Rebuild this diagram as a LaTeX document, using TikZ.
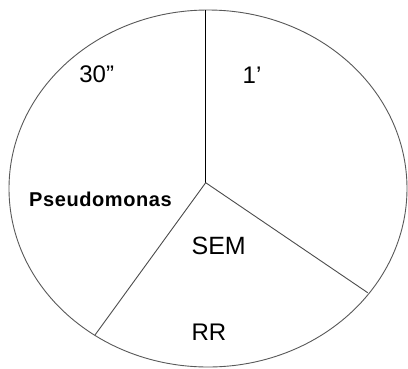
\documentclass[tikz,border=0pt]{standalone}
\usepackage{fontspec}
\setmainfont{Liberation Sans}
\newfontfamily\pseudofont[LetterSpace=3]{Liberation Sans}
\begin{document}
\begin{tikzpicture}[x=1pt,y=-1pt,
  outline/.style={draw=black!65,line width=0.9pt},
  divider/.style={draw=black!70,line width=0.9pt},
  lbl/.style={inner sep=0pt,anchor=center,text=black}]
\useasboundingbox[fill=white] (0,0) rectangle (408,368);
\draw[outline] (208,188.5) ellipse [x radius=199, y radius=178.5];
\coordinate (c) at (205.7,182.7);
\coordinate (top) at (205.7,10);
\coordinate (right) at (367.7,292.7);
\coordinate (left) at (95,335);
\draw[divider,draw=black] (c) -- (top);
\draw[divider] (c) -- (right);
\draw[divider] (c) -- (left);
\node[lbl,font=\fontsize{24}{28}\selectfont] (t30) at (96.7,74) {30”};
\node[lbl,font=\fontsize{24}{28}\selectfont] (t1) at (252,75) {1’};
\node[lbl,font=\pseudofont\bfseries\fontsize{20}{24}\selectfont] (ps) at (100.5,199.5) {Pseudomonas};
\node[lbl,font=\fontsize{25}{29}\selectfont] (sem) at (218.7,246) {SEM};
\node[lbl,font=\fontsize{24}{28}\selectfont] (rr) at (209,332) {RR};
\end{tikzpicture}
\end{document}
